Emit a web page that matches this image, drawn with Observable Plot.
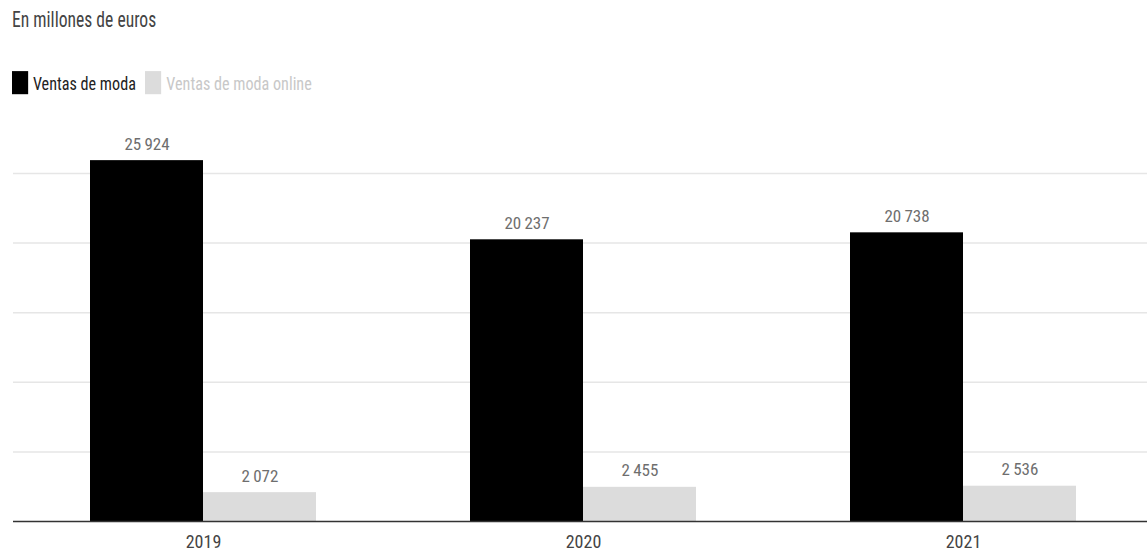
<!DOCTYPE html>
<html>
<head>
<meta charset="utf-8">
<script src="https://cdn.jsdelivr.net/npm/d3@7"></script>
<script src="https://cdn.jsdelivr.net/npm/@observablehq/plot@0.6"></script>
<style>
  html, body { margin: 0; padding: 0; background: #fff; overflow: hidden; width: 1147px; height: 552px; }
  body { position: relative; font-family: "Roboto Condensed", "Roboto", sans-serif; }
  #title { position: absolute; left: 12px; top: 6px; font-size: 20px; line-height: 24px; color: #444; transform: scale(0.88, 1.12); transform-origin: left top; white-space: nowrap; }
  #legend { position: absolute; left: 12px; top: 70px; height: 23px; display: flex; align-items: center; font-size: 17px; transform: scale(0.95, 1.1); transform-origin: left top; white-space: nowrap; }
  .sw { width: 17px; height: 21px; display: inline-block; margin-right: 5px; }
  .item { display: flex; align-items: center; margin-right: 10px; }
  #chart { position: absolute; left: 0; top: 105px; }
</style>
</head>
<body>
<div id="title">En millones de euros</div>
<div id="legend"></div>
<div id="chart"></div>
<script>
const years = ["2019", "2020", "2021"];
const seriesNames = ["Ventas de moda", "Ventas de moda online"];
const ventasModa = [25924, 20237, 20738];
const ventasOnline = [2072, 2455, 2536];
const gridTicks = [5000, 10000, 15000, 20000, 25000];
const colors = ["#000000", "#dcdcdc"];
const legendText = ["#222222", "#c8c8c8"];

const data = [];
years.forEach((y, i) => {
  data.push({year: y, series: seriesNames[0], value: ventasModa[i]});
  data.push({year: y, series: seriesNames[1], value: ventasOnline[i]});
});

const loc = d3.formatLocale({decimal: ",", thousands: "\u2009", grouping: [3], currency: ["", " €"]});
const fmt = loc.format(",d");

// legend
const legend = document.getElementById("legend");
seriesNames.forEach((s, i) => {
  const it = document.createElement("div");
  it.className = "item";
  const sw = document.createElement("span");
  sw.className = "sw";
  sw.style.background = colors[i];
  const t = document.createElement("span");
  t.textContent = s;
  t.style.color = legendText[i];
  it.appendChild(sw);
  it.appendChild(t);
  legend.appendChild(it);
});

const chart = Plot.plot({
  width: 1147,
  height: 447,
  marginLeft: 12,
  marginRight: -6,
  marginTop: 26.24,
  marginBottom: 31,
  style: {fontFamily: '"Roboto Condensed", Roboto, sans-serif', background: "transparent", overflow: "visible"},
  fx: {domain: years, padding: 0, axis: "bottom", tickSize: 0, tickPadding: 14, label: null, fontSize: 18},
  x: {domain: seriesNames, paddingInner: 0, paddingOuter: 0.67, axis: null},
  y: {domain: [0, 28000], axis: null},
  color: {domain: seriesNames, range: colors},
  marks: [
    Plot.ruleY(gridTicks, {stroke: "#e6e6e6", strokeWidth: 1.5}),
    Plot.barY(data, {fx: "year", x: "series", y: "value", fill: "series"}),
    Plot.ruleY([0], {stroke: "#333", strokeWidth: 1.5}),
    Plot.text(data, {fx: "year", x: "series", y: "value", text: d => fmt(d.value), lineAnchor: "bottom", dy: -11, fill: "#6e6e6e", fontSize: 17})
  ]
});
document.getElementById("chart").appendChild(chart);
chart.querySelectorAll('[aria-label="fx-axis tick label"] text, [aria-label="fx-axis"] text').forEach(t => { t.style.fontSize = "18px"; t.style.fill = "#444"; });
</script>
</body>
</html>
